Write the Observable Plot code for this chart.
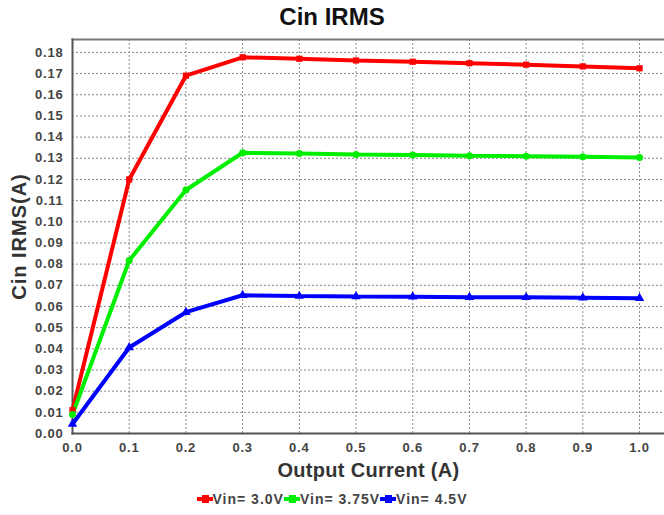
<!DOCTYPE html>
<html><head><meta charset="utf-8">
<script src="https://cdn.jsdelivr.net/npm/d3@7"></script>
<script src="https://cdn.jsdelivr.net/npm/@observablehq/plot@0.6"></script>
<style>
body{margin:0;background:#fff;font-family:"Liberation Sans",Arial,sans-serif;}
#wrap{position:relative;width:664px;height:515px;overflow:hidden;}
#title{position:absolute;left:0;width:664px;top:3px;text-align:center;font-weight:bold;font-size:24px;color:#111;}
#legend{position:absolute;left:0;width:664px;top:491px;text-align:center;font-weight:bold;font-size:14px;color:#444;letter-spacing:1px;white-space:nowrap;}
.sw{display:inline-block;position:relative;width:16px;height:4px;vertical-align:middle;margin-right:0px;top:-1px;}
.sw i{position:absolute;left:5px;top:-2px;width:7px;height:8px;}
.item{margin-right:0px;}
</style></head>
<body><div id="wrap"><div id="title">Cin IRMS</div><div id="chart"></div><div id="legend"></div></div>
<script>
const current = [0.0, 0.1, 0.2, 0.3, 0.4, 0.5, 0.6, 0.7, 0.8, 0.9, 1.0];
const vin30 = [0.011, 0.120, 0.169, 0.1777, 0.1770, 0.1762, 0.1756, 0.1749, 0.1742, 0.1734, 0.1725];
const vin375 = [0.009, 0.0817, 0.115, 0.1326, 0.1323, 0.1318, 0.1315, 0.1312, 0.1310, 0.1307, 0.1304];
const vin45 = [0.0045, 0.0406, 0.0573, 0.0653, 0.0649, 0.0647, 0.0646, 0.0644, 0.0643, 0.0641, 0.0639];
const seriesNames = ["Vin= 3.0V", "Vin= 3.75V", "Vin= 4.5V"];
const seriesColors = ["#ff0000", "#00ee00", "#0000ff"];
const seriesSymbols = ["square", "circle", "triangle"];
const xTicks = [0, 0.1, 0.2, 0.3, 0.4, 0.5, 0.6, 0.7, 0.8, 0.9, 1.0];
const yTicks = [0, 0.01, 0.02, 0.03, 0.04, 0.05, 0.06, 0.07, 0.08, 0.09, 0.10, 0.11, 0.12, 0.13, 0.14, 0.15, 0.16, 0.17, 0.18];

const allSeries = [vin30, vin375, vin45];
const data = [];
allSeries.forEach((vals, i) => vals.forEach((v, j) => data.push({x: current[j], y: v, s: seriesNames[i]})));

const font = {fontWeight: "bold", fontSize: 13, fill: "#444"};
const chart = Plot.plot({
  width: 664, height: 515,
  marginTop: 39, marginBottom: 82, marginLeft: 72, marginRight: 0,
  style: {fontFamily: "Liberation Sans, Arial, sans-serif", background: "#fff"},
  x: {domain: [0, 1.044]},
  y: {domain: [0, 0.1861]},
  color: {domain: seriesNames, range: seriesColors},
  symbol: {domain: seriesNames, range: seriesSymbols},
  marks: [
    Plot.ruleX(xTicks.slice(1), {stroke: "#888", strokeDasharray: "2,2", strokeWidth: 1}),
    Plot.ruleY(yTicks.slice(1), {stroke: "#888", strokeDasharray: "2,2", strokeWidth: 1}),
    Plot.frame({anchor: "top", stroke: "#777", strokeWidth: 2}),
    Plot.frame({anchor: "left", stroke: "#555", strokeWidth: 2}),
    Plot.frame({anchor: "bottom", stroke: "#555", strokeWidth: 2}),
    Plot.axisX({ticks: xTicks, tickFormat: d3.format(".1f"), tickSize: 0, tickPadding: 9, ...font, label: null}),
    Plot.axisY({ticks: yTicks, tickFormat: d3.format(".2f"), tickSize: 0, tickPadding: 9, ...font, label: null}),
    Plot.lineY(data, {x: "x", y: "y", stroke: "s", strokeWidth: 4, strokeLinejoin: "miter"}),
    Plot.dot(data, {x: "x", y: "y", fill: "s", symbol: "s", r: 3.5}),
    Plot.text(["Output Current (A)"], {frameAnchor: "bottom", dy: 37, text: d => d, fontSize: 20, fontWeight: "bold", fill: "#333", lineAnchor: "middle"}),
    Plot.text(["Cin IRMS(A)"], {frameAnchor: "left", dx: -53, rotate: -90, text: d => d, fontSize: 20, fontWeight: "bold", fill: "#333", textAnchor: "middle", lineAnchor: "middle"})
  ]
});
document.getElementById("chart").appendChild(chart);
const sel = d3.select(chart).selectAll("text");
sel.filter(function(){return this.textContent==="Output Current (A)";}).style("letter-spacing","0.3px");
sel.filter(function(){return this.textContent==="Cin IRMS(A)";}).style("letter-spacing","1px");
sel.filter(function(){return /^\d\.\d+$/.test(this.textContent);}).style("letter-spacing","0.8px");

const lg = document.getElementById("legend");
seriesNames.forEach((n, i) => {
  const span = document.createElement("span");
  span.className = "item";
  span.innerHTML = `<span class="sw" style="background:${seriesColors[i]}"><i style="background:${seriesColors[i]}"></i></span>${n}`;
  lg.appendChild(span);
});
</script></body></html>
